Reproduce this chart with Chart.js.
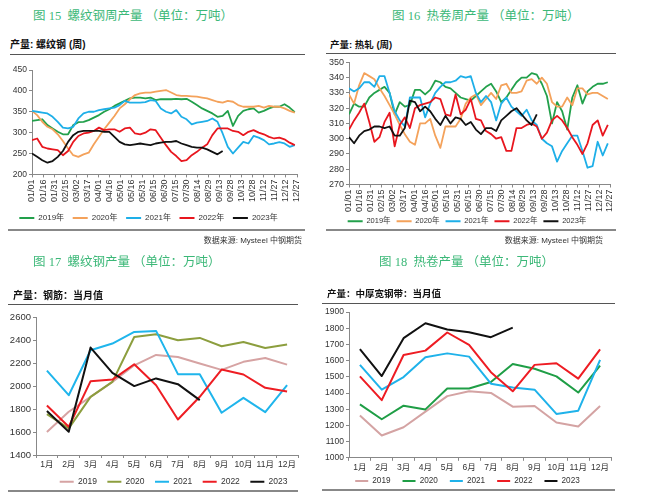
<!DOCTYPE html>
<html>
<head>
<meta charset="utf-8">
<script src="https://cdn.jsdelivr.net/npm/chart.js@4.4.1/dist/chart.umd.min.js"></script>
<style>
    body { margin: 0; width: 649px; height: 493px; background: #fff; position: relative; overflow: hidden;
           font-family: "Liberation Sans", "Noto Sans CJK SC", sans-serif; }
    .title { position: absolute; white-space: pre; color: #3cb878; font-size: 12.5px; line-height: 15px;
             font-family: "Liberation Serif", "Noto Sans CJK SC", serif; }
    .sub { position: absolute; white-space: pre; font-weight: bold; color: #111; line-height: 13px; }
    .src { position: absolute; white-space: pre; font-size: 8px; color: #333; line-height: 10px; text-align: right; }
    .rule { position: absolute; }
    .box { position: absolute; }
    canvas { display: block; }
</style>
</head>
<body>

<!-- 图15 -->
<div class="title" style="left:33px;top:9px">图 15  螺纹钢周产量 （单位：万吨）</div>
<div class="sub" style="left:10px;top:38px;font-size:10px">产量: 螺纹钢 (周)</div>
<div class="rule" style="left:10px;top:54px;width:295px;border-top:1.5px solid #555"></div>
<div class="box" style="left:0;top:60px"><canvas id="c15" width="310" height="172"></canvas></div>
<div class="rule" style="left:8px;top:229px;width:297px;border-top:2px solid #888"></div>
<div class="src" style="right:347px;top:236px">数据来源: Mysteel 中钢期货</div>

<!-- 图16 -->
<div class="title" style="left:392px;top:9px">图 16  热卷周产量 （单位：万吨）</div>
<div class="sub" style="left:330px;top:38px;font-size:9.5px">产量: 热轧 (周)</div>
<div class="rule" style="left:326px;top:53px;width:290px;border-top:1.5px solid #555"></div>
<div class="box" style="left:324px;top:55px"><canvas id="c16" width="300" height="183"></canvas></div>
<div class="rule" style="left:326px;top:229px;width:290px;border-top:2px solid #888"></div>
<div class="src" style="right:46px;top:236px">数据来源: Mysteel 中钢期货</div>

<!-- 图17 -->
<div class="title" style="left:33px;top:255px">图 17  螺纹钢产量 （单位：万吨）</div>
<div class="sub" style="left:13px;top:289px;font-size:10px">产量：钢筋：当月值</div>
<div class="rule" style="left:8px;top:304px;width:290px;border-top:1.5px solid #555"></div>
<div class="box" style="left:0;top:305px"><canvas id="c17" width="305" height="195"></canvas></div>
<div class="rule" style="left:8px;top:490px;width:290px;border-top:2px solid #888"></div>

<!-- 图18 -->
<div class="title" style="left:379px;top:255px">图 18  热卷产量 （单位：万吨）</div>
<div class="sub" style="left:327px;top:287px;font-size:9.5px">产量：中厚宽钢带：当月值</div>
<div class="rule" style="left:322px;top:303px;width:293px;border-top:1.5px solid #555"></div>
<div class="box" style="left:324px;top:305px"><canvas id="c18" width="300" height="199"></canvas></div>
<div class="rule" style="left:322px;top:489px;width:293px;border-top:2px solid #888"></div>

<script>
// 周度横轴标签（每15天一个刻度）
const weekTicks = ['01/01', '01/16', '01/31', '02/15', '03/02', '03/17', '04/01', '04/16', '05/01',
    '05/16', '05/31', '06/15', '06/30', '07/15', '07/30', '08/14', '08/29', '09/13', '09/28',
    '10/13', '10/28', '11/12', '11/27', '12/12', '12/27'];
const monthLabels = ['1月', '2月', '3月', '4月', '5月', '6月', '7月', '8月', '9月', '10月', '11月', '12月'];
const years = ['2019', '2020', '2021', '2022', '2023'];

// 螺纹钢周产量（万吨）
const rebarW2019 = [328, 330, 332, 318, 310, 302, 296, 296, 318, 325, 326, 330, 336, 342, 350, 356, 364, 370, 376, 382, 384, 384, 382, 384, 378, 380,
    380, 380, 381, 380, 381, 374, 366, 358, 352, 346, 338, 340, 352, 316, 340, 352, 356, 358, 348, 352, 358, 362, 362, 368, 360, 349];
const rebarW2020 = [352, 342, 326, 314, 308, 296, 280, 262, 246, 242, 248, 252, 272, 290, 308, 324, 340, 358, 368, 380, 390, 394, 396, 396, 398, 400,
    402, 396, 390, 388, 388, 387, 386, 384, 382, 378, 374, 372, 376, 374, 366, 362, 362, 362, 364, 360, 364, 362, 362, 358, 352, 348];
const rebarW2021 = [352, 350, 348, 346, 338, 326, 312, 310, 314, 334, 346, 350, 350, 354, 356, 358, 360, 366, 376, 372, 372, 372, 373, 378, 376, 358,
    350, 346, 354, 338, 332, 320, 324, 326, 328, 334, 326, 298, 266, 250, 264, 278, 274, 292, 288, 282, 272, 274, 277, 274, 266, 270];
const rebarW2022 = [282, 286, 266, 262, 260, 258, 246, 256, 278, 292, 298, 300, 304, 312, 306, 308, 308, 302, 310, 312, 298, 296, 300, 308, 306, 288,
    270, 254, 244, 232, 234, 246, 254, 264, 272, 294, 310, 310, 310, 304, 302, 294, 302, 306, 300, 296, 290, 286, 288, 284, 276, 270];
const rebarW2023 = [250, 242, 234, 228, 232, 242, 256, 278, 294, 302, 304, 304, 304, 304, 302, 302, 290, 278, 272, 270, 272, 274, 272, 270, 274, 276,
    278, 278, 280, 274, 270, 266, 264, 264, 260, 254, 248, 256];

// 热卷周产量（万吨）
const hrcW2019 = [316, 323, 321, 321, 327, 330, 332, 334, 330, 316, 324, 321, 322, 332, 332, 329, 332, 338, 337, 334, 333, 330, 327, 326, 325, 328,
    331, 334, 336, 331, 324, 327, 332, 337, 340, 340, 343, 342, 336, 328, 310, 324, 318, 306, 327, 335, 323, 331, 334, 336, 336, 337];
const hrcW2020 = [329, 323, 335, 343, 341, 339, 333, 328, 322, 316, 309, 303, 298, 296, 310, 310, 313, 302, 294, 308, 308, 308, 313, 323, 327, 329,
    322, 326, 330, 326, 335, 336, 330, 330, 331, 338, 339, 336, 340, 336, 324, 321, 321, 327, 322, 333, 333, 329, 330, 330, 328, 326];
const hrcW2021 = [333, 331, 333, 337, 337, 334, 341, 341, 330, 318, 312, 308, 327, 327, 327, 314, 323, 330, 334, 337, 337, 338, 341, 340, 341, 330,
    324, 328, 324, 312, 323, 327, 321, 318, 315, 319, 312, 309, 300, 297, 295, 285, 292, 297, 302, 302, 292, 281, 282, 298, 289, 297];
const hrcW2022 = [306, 312, 317, 323, 311, 298, 301, 311, 317, 295, 309, 314, 307, 320, 322, 323, 324, 327, 326, 316, 315, 329, 316, 319, 326, 313,
    312, 305, 303, 300, 301, 292, 292, 307, 307, 309, 310, 308, 300, 304, 312, 315, 312, 307, 301, 296, 290, 297, 309, 312, 302, 309];
const hrcW2023 = [301, 297, 302, 305, 306, 308, 308, 307, 308, 302, 302, 307, 325, 324, 318, 321, 318, 313, 309, 315, 310, 314, 313, 309, 311, 306,
    303, 307, 307, 305, 312, 315, 318, 320, 316, 312, 309, 316];

// 螺纹钢月度产量（万吨）
const rebarM2019 = [1600, 1776, 1906, 2036, 2180, 2270, 2252, 2195, 2140, 2210, 2244, 2186];
const rebarM2020 = [1756, 1631, 1906, 2036, 2426, 2450, 2398, 2418, 2346, 2383, 2331, 2360];
const rebarM2021 = [2134, 1920, 2311, 2369, 2470, 2479, 2103, 2103, 1767, 1897, 1773, 2007];
const rebarM2022 = [1831, 1646, 2042, 2056, 2189, 2007, 1709, 1906, 2143, 2100, 1984, 1952];
const rebarM2023 = [1782, 1602, 2334, 2114, 1999, 2066, 2016, 1877];

// 中厚宽钢带月度产量（万吨）
const hrcM2019 = [1261, 1138, 1189, 1285, 1381, 1411, 1401, 1316, 1320, 1218, 1193, 1320];
const hrcM2020 = [1330, 1238, 1322, 1299, 1428, 1428, 1468, 1580, 1550, 1503, 1403, 1570];
const hrcM2021 = [1574, 1421, 1499, 1621, 1645, 1625, 1458, 1434, 1421, 1271, 1291, 1605];
const hrcM2022 = [1503, 1356, 1635, 1662, 1774, 1698, 1529, 1411, 1574, 1584, 1489, 1670];
const hrcM2023 = [1672, 1505, 1739, 1831, 1792, 1776, 1745, 1804];

const FONT = "'Liberation Sans', 'Noto Sans CJK SC', sans-serif";
const weeklyColors = ['#22a04b', '#f4a25b', '#1eafe8', '#e8161e', '#111111'];
const rebarMColors = ['#d6a3a3', '#8c9e3e', '#1fb5ec', '#ee1d23', '#111111'];
const hrcMColors = ['#d4a3a3', '#1f9e46', '#1fb2ea', '#ee1c23', '#111111'];

// 周数据 -> {x: 第几天, y}
const toWeekly = arr => arr.map((v, i) => ({ x: i * 7, y: v }));

// labels.padding 同时管横向间距，图例的上下位置单独挪一下
const legendNudge = {
    id: 'legendNudge',
    afterLayout(chart, args, opts) {
        const dy = opts.dy || 0;
        chart.legend.top += dy;
        chart.legend.bottom += dy;
    }
};

function legendOpts(size, boxWidth, padding, align) {
    return {
        position: 'bottom',
        align: align || 'center',
        labels: {
            boxWidth: boxWidth,
            boxHeight: 2,
            padding: padding,
            color: '#333',
            font: { size: size, family: FONT },
            sort: (a, b) => a.datasetIndex - b.datasetIndex,
            generateLabels: chart => Chart.defaults.plugins.legend.labels.generateLabels(chart)
                .map(item => Object.assign(item, { lineWidth: 0, fillStyle: item.strokeStyle }))
        }
    };
}

function axisGrid() {
    return { drawOnChartArea: false, drawTicks: true, tickLength: 3, color: '#888' };
}

function buildChart(id, cfg) {
    const datasets = cfg.series.map((data, i) => ({
        label: cfg.names[i],
        data: data,
        borderColor: cfg.colors[i],
        backgroundColor: cfg.colors[i],
        borderWidth: cfg.lineWidth,
        pointRadius: 0,
        tension: 0,
        borderJoinStyle: 'round',
        order: 5 - i
    }));

    return new Chart(document.getElementById(id), {
        type: 'line',
        data: { labels: cfg.labels, datasets: datasets },
        plugins: [legendNudge],
        options: {
            responsive: false,
            animation: false,
            devicePixelRatio: 1,
            layout: { padding: cfg.padding },
            plugins: {
                tooltip: { enabled: false },
                legend: cfg.legend,
                legendNudge: { dy: cfg.legendDy }
            },
            scales: {
                x: Object.assign(cfg.x, {
                    grid: Object.assign(axisGrid(), cfg.xGrid || {}),
                    border: { color: '#888' },
                    afterFit: s => { s.height = cfg.xHeight; }
                }),
                y: {
                    min: cfg.yMin,
                    max: cfg.yMax,
                    ticks: {
                        stepSize: cfg.yStep, padding: 2, color: '#333',
                        font: { size: cfg.yFont, family: FONT },
                        callback: v => String(v)
                    },
                    grid: axisGrid(),
                    border: { color: '#888' },
                    afterFit: s => { s.width = cfg.yWidth; }
                }
            }
        }
    });
}

function weeklyX() {
    return {
        type: 'linear',
        min: 0,
        max: 360,
        ticks: {
            stepSize: 15,
            autoSkip: false,
            minRotation: 90,
            maxRotation: 90,
            padding: 2,
            color: '#333',
            font: { size: 9, family: FONT },
            callback: (v, i) => weekTicks[i]
        }
    };
}

function monthlyX(size) {
    return {
        type: 'category',
        offset: true,
        ticks: { padding: 2, color: '#333', font: { size: size, family: FONT }, maxRotation: 0, autoSkip: false }
    };
}

const weeklyNames = years.map(y => y + '年');

// 图15 螺纹钢周产量
buildChart('c15', {
    series: [rebarW2019, rebarW2020, rebarW2021, rebarW2022, rebarW2023].map(toWeekly),
    names: weeklyNames, colors: weeklyColors, lineWidth: 1.8,
    padding: { left: 0, top: 10, right: 13, bottom: 0 },
    x: weeklyX(), xHeight: 31,
    yMin: 200, yMax: 450, yStep: 50, yFont: 8.5, yWidth: 32,
    legend: legendOpts(8, 15, 8.6), legendDy: 0
});

// 图16 热卷周产量
buildChart('c16', {
    series: [hrcW2019, hrcW2020, hrcW2021, hrcW2022, hrcW2023].map(toWeekly),
    names: weeklyNames, colors: weeklyColors, lineWidth: 1.8,
    padding: { left: 0, top: 7, right: 14, bottom: 0 },
    x: weeklyX(), xHeight: 30,
    yMin: 270, yMax: 350, yStep: 10, yFont: 9, yWidth: 25,
    legend: legendOpts(7.5, 15, 6), legendDy: -3
});

// 图17 螺纹钢月产量
buildChart('c17', {
    labels: monthLabels,
    series: [rebarM2019, rebarM2020, rebarM2021, rebarM2022, rebarM2023],
    names: years, colors: rebarMColors, lineWidth: 2,
    padding: { left: 0, top: 12, right: 7, bottom: 0 },
    x: monthlyX(8.5), xGrid: { offset: true }, xHeight: 16,
    yMin: 1400, yMax: 2600, yStep: 200, yFont: 9.5, yWidth: 36,
    legend: legendOpts(8.5, 14, 10.5, 'end'), legendDy: -4
});

// 图18 热卷月产量
buildChart('c18', {
    labels: monthLabels,
    series: [hrcM2019, hrcM2020, hrcM2021, hrcM2022, hrcM2023],
    names: years, colors: hrcMColors, lineWidth: 2,
    padding: { left: 0, top: 6, right: 13, bottom: 0 },
    x: monthlyX(8.5), xGrid: { offset: true }, xHeight: 16,
    yMin: 1000, yMax: 1900, yStep: 100, yFont: 8.5, yWidth: 25,
    legend: legendOpts(8.2, 13, 12), legendDy: -9
});
</script>
</body>
</html>
